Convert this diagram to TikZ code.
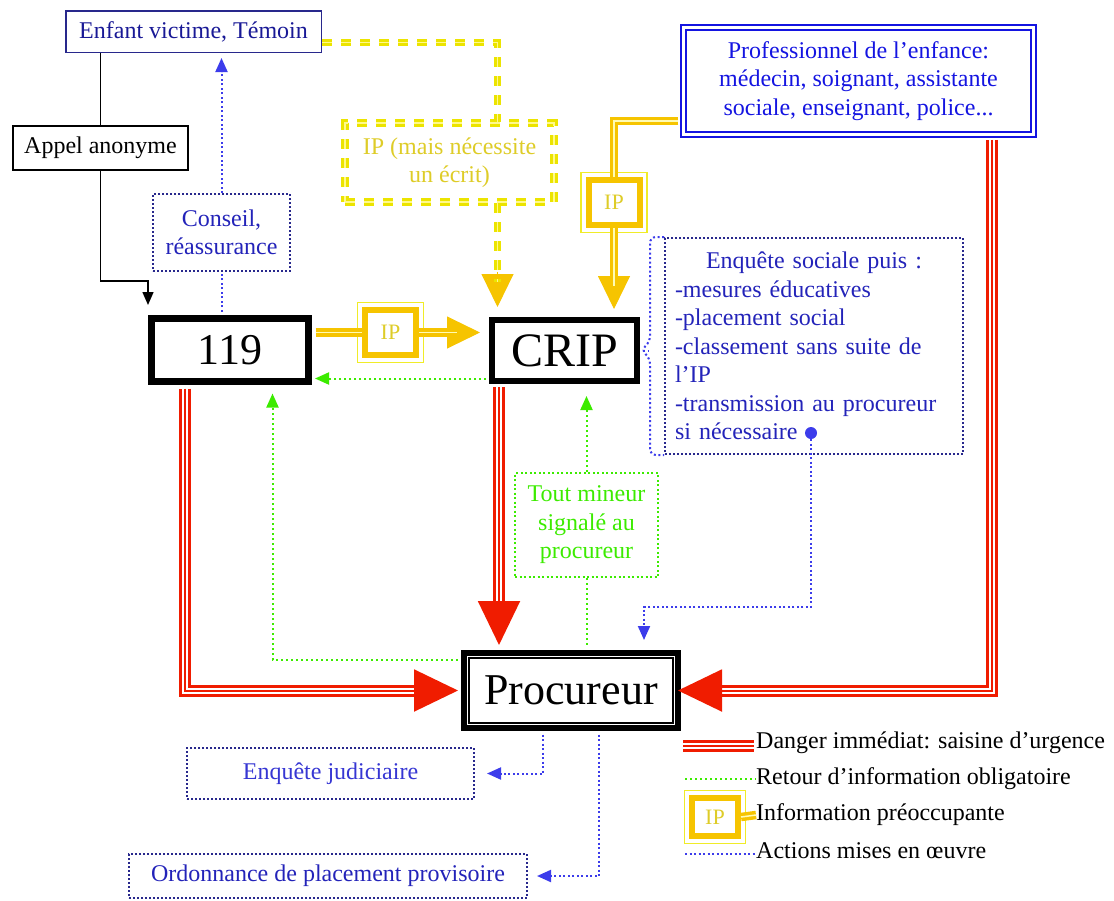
\documentclass[tikz,border=0pt]{standalone}
\usepackage{fontspec}
\setmainfont{Liberation Serif}
\usetikzlibrary{arrows.meta}
\definecolor{ipgold}{RGB}{246,196,0}
\definecolor{iplight}{RGB}{240,236,40}
\definecolor{ipdashc}{RGB}{236,228,0}
\definecolor{iptext}{RGB}{222,204,40}
\definecolor{dred}{RGB}{240,28,0}
\definecolor{igreen}{RGB}{60,235,0}
\definecolor{navy}{RGB}{40,40,140}
\definecolor{ablue}{RGB}{60,60,235}
\definecolor{tblue}{RGB}{35,35,185}
\definecolor{tnavy}{RGB}{25,25,150}
\definecolor{pblue}{RGB}{20,20,225}
\tikzset{
  base/.style={font=\fontsize{24}{28.5}\selectfont, inner sep=0pt, align=center},
  plainbox/.style={base, draw=black, line width=2pt},
  bigbox/.style={font=\fontsize{46}{50}\selectfont, inner sep=0pt, draw=black, line width=7pt, fill=white},
  actbox/.style={base, draw=navy, line width=2pt, dash pattern=on 2pt off 2pt, text=tblue},
  infobox/.style={base, draw=igreen, line width=2pt, dash pattern=on 2pt off 2.5pt, text=igreen},
  ipbox/.style={base, font=\fontsize{22}{24}\selectfont, draw=ipgold, line width=6pt, fill=white, text=iptext, minimum width=51pt, minimum height=45pt},
  ipframe/.style={draw=iplight, line width=1.5pt},
  ipline/.style={draw=ipgold, line width=3.5pt, double=yellow!30, double distance=1.5pt},
  ipdash/.style={draw=ipdashc, line width=2.8pt, double=yellow!45, double distance=1.5pt, dash pattern=on 10pt off 9pt},
  iptip/.style={draw=ipgold, line width=1pt, -{Triangle[width=32pt,length=33pt]}},
  dangerline/.style={draw=dred, line width=3pt, double=white, double distance=6pt},
  dangertip/.style={draw=dred, line width=2pt, -{Triangle[width=42pt,length=44pt]}},
  infoline/.style={draw=igreen, line width=2pt, dash pattern=on 2pt off 3pt},
  infoarrow/.style={infoline, -{Triangle[width=12pt,length=14pt]}},
  actline/.style={draw=ablue, line width=2pt, dash pattern=on 2pt off 2.5pt},
  actarrow/.style={actline, -{Triangle[width=12pt,length=14pt]}},
}
\begin{document}
\begin{tikzpicture}[x=1pt, y=-1pt]
  \useasboundingbox (0,0) rectangle (1114,900);

  \node[base, draw=navy, line width=1.5pt, text=tnavy, minimum width=255.5pt, minimum height=41.5pt] (enfant) at (193.5,31.5) {Enfant victime, Témoin};
  \node[plainbox, minimum width=175pt, minimum height=44pt] (appel) at (100.5,148) {Appel anonyme};
  \node[actbox, minimum width=137pt, minimum height=77pt] (conseil) at (221.5,232.5) {Conseil,\\réassurance};
  \node[base, ipdash, text=iptext, minimum width=209pt, minimum height=79pt] (ipnote) at (449.5,162.5) {IP (mais nécessite\\un écrit)};
  \node[base, draw=pblue, line width=2.5pt, double=white, double distance=2.5pt, text=pblue, minimum width=350pt, minimum height=107pt] (prof) at (858.5,81) {Professionnel de l’enfance:\\médecin, soignant, assistante\\sociale, enseignant, police...};

  \node[bigbox, font=\fontsize{44}{48}\selectfont, minimum width=157pt, minimum height=63pt] (n119) at (230,350) {119};
  \node[bigbox, font=\fontsize{48}{52}\selectfont, line width=6pt, minimum width=145pt, minimum height=61pt] (crip) at (564.5,350.5) {CRIP};
  \node[bigbox, font=\fontsize{44}{48}\selectfont, line width=6pt, minimum width=214pt, minimum height=75pt] (proc) at (571,690.5) {Procureur};
  \draw[line width=1.5pt] ([shift={(8,8)}]proc.north west) rectangle ([shift={(-8,-8)}]proc.south east);

  \node[ipbox] (ipa) at (390.5,332.5) {IP};
  \draw[ipframe] ([shift={(-4.5,-4.5)}]ipa.north west) rectangle ([shift={(4.5,4.5)}]ipa.south east);
  \node[ipbox] (ipb) at (614,202.5) {IP};
  \draw[ipframe] ([shift={(-4.5,-4.5)}]ipb.north west) rectangle ([shift={(4.5,4.5)}]ipb.south east);

  \node[actbox, align=left, text width=278pt, inner xsep=10pt, inner ysep=4pt, minimum height=216pt] (enqsoc) at (814,346) {\makebox[278pt][c]{Enquête sociale puis :}\\-mesures éducatives\\-placement social\\-classement sans suite de\\l’IP\\-transmission au procureur\\si nécessaire};
  \node[circle, fill=ablue, inner sep=0pt, minimum size=12pt] (dot) at (811,433) {};
  \node[infobox, minimum width=143pt, minimum height=104pt] (toutmin) at (586.5,525) {Tout mineur\\signalé au\\procureur};
  \node[actbox, text=ablue!90!black, minimum width=287pt, minimum height=51pt] (enqjud) at (330.5,773.5) {Enquête judiciaire};
  \node[actbox, minimum width=398pt, minimum height=44pt] (ordo) at (328,876) {Ordonnance de placement provisoire};

  \draw[line width=1.5pt] (appel.north |- enfant.south) -- (appel.north);
  \draw[line width=1.5pt, -{Triangle[width=11pt,length=13pt]}] (appel.south) |- ([shift={(0,-34)}]n119.north west) -- ([shift={(0,-10)}]n119.north west);
  \draw[actline, shorten <=3.5pt] (n119.north -| conseil.south) -- (conseil.south);
  \draw[actarrow, shorten >=5pt] (conseil.north) -- (conseil.north |- enfant.south);

  \draw[ipdash] ([yshift=-11pt]enfant.east) -| ([xshift=48pt]ipnote.north);
  \coordinate (ipin) at ([xshift=48pt]ipnote.south |- crip.north);
  \draw[iptip, shorten >=10pt] ([yshift=45pt]ipin) -- (ipin);
  \draw[ipdash, shorten >=35pt] ([xshift=48pt]ipnote.south) -- (ipin);

  \draw[ipline, shorten <=3.5pt] (n119.east |- ipa.west) -- (ipa.west);
  \draw[iptip, shorten >=9pt] (ipa.east) -- (crip.west |- ipa.east);
  \draw[ipline, shorten >=32pt] (ipa.east) -- (crip.west |- ipa.east);
  \draw[ipline, shorten <=4pt] ([yshift=15pt]prof.south west) -| (ipb.north);
  \draw[iptip, shorten >=8pt] (ipb.south) -- (ipb.south |- crip.north);
  \draw[ipline, shorten >=31pt] (ipb.south) -- (ipb.south |- crip.north);

  \draw[dangerline, shorten <=3.5pt, shorten >=40pt] ([xshift=36.5pt]n119.south west) |- (proc.west);
  \draw[dangertip, shorten <=3.5pt, shorten >=3pt] ([xshift=36.5pt]n119.south west) |- (proc.west);
  \draw[dangerline, shorten <=3pt, shorten >=40pt] ([xshift=10pt]crip.south west) -- ([xshift=10pt]crip.south west |- proc.north);
  \draw[dangertip, shorten <=3pt, shorten >=5pt] ([xshift=10pt]crip.south west) -- ([xshift=10pt]crip.south west |- proc.north);
  \draw[dangerline, shorten <=4pt, shorten >=40pt] ([xshift=-43pt]prof.south east) |- (proc.east);
  \draw[dangertip, shorten <=4pt, shorten >=-3pt] ([xshift=-43pt]prof.south east) |- (proc.east);

  \draw[infoarrow, shorten <=3pt, shorten >=3pt] ([yshift=-28pt]crip.west) -- ([yshift=-28pt]crip.west -| n119.east);
  \draw[infoarrow, shorten <=3.5pt, shorten >=8.5pt] ([yshift=-10pt]proc.north west) -| ([xshift=124.5pt]n119.south west);
  \draw[infoline, shorten >=3pt] (toutmin.south) -- (toutmin.south |- proc.north);
  \draw[infoarrow, shorten >=12pt] (toutmin.north) -- (toutmin.north |- crip.south);

  \draw[actline, rounded corners=6pt] (enqsoc.north west) -- ++(-14,0) -- ++(0,105) -- ++(-9,8) -- ++(9,8) |- (enqsoc.south west);
  \draw[actline, shorten <=3pt] (crip.east) -- ++(8,0);
  \coordinate (bend) at (644,607);
  \draw[actarrow, shorten >=10pt] (dot.south) |- (bend) -- (bend |- proc.north);
  \draw[actarrow, shorten <=3.5pt, shorten >=12pt] ([xshift=-28pt]proc.south) |- (enqjud.east);
  \draw[actarrow, shorten <=3.5pt, shorten >=9pt] ([xshift=28pt]proc.south) |- (ordo.east);

  \node[base, anchor=west] (leg1) at (756,743) {Danger immédiat: saisine d’urgence};
  \node[base, anchor=west] (leg2) at (756,779) {Retour d’information obligatoire};
  \node[base, anchor=west] (leg3) at (756,815) {Information préoccupante};
  \node[base, anchor=west] (leg4) at (756,851) {Actions mises en œuvre};
  \draw[dangerline] ([shift={(-73,3)}]leg1.west) -- ([shift={(-2,3)}]leg1.west);
  \draw[draw=dred, line width=2pt] ([shift={(-73,3)}]leg1.west) -- ([shift={(-2,3)}]leg1.west);
  \draw[infoline] ([xshift=-71pt]leg2.west) -- (leg2.west);
  \node[ipbox, minimum width=46pt, minimum height=38pt] (ipleg) at (715,817) {IP};
  \draw[ipframe] ([shift={(-4.5,-4.5)}]ipleg.north west) rectangle ([shift={(4.5,4.5)}]ipleg.south east);
  \draw[ipline] (ipleg.east) -- (leg3.west);
  \draw[actline] ([shift={(-71,3)}]leg4.west) -- ([shift={(0,3)}]leg4.west);
\end{tikzpicture}
\end{document}
